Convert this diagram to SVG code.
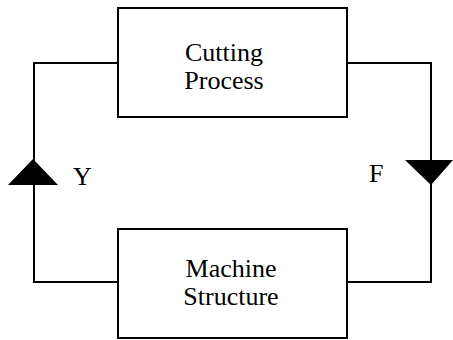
<svg xmlns="http://www.w3.org/2000/svg" width="453" height="340" viewBox="0 0 453 340">
<style>
.box{fill:#fff;stroke:#000;stroke-width:2}
.ln{fill:none;stroke:#000;stroke-width:2}
.tri{fill:#000;stroke:none}
.t{font-family:"Liberation Serif","Times New Roman",serif;font-size:26px;fill:#000}
.c{text-anchor:middle}
</style>
<g id="connectors">
<polyline class="ln" points="118,63 34,63 34,282 118,282"/>
<polyline class="ln" points="347,63 431,63 431,282 347,282"/>
<polygon class="tri" points="8,185 58,185 33,159"/>
<polygon class="tri" points="405,160 453,160 431,185"/>
</g>
<g id="label-y"><text class="t" x="73" y="185">Y</text></g>
<g id="label-f"><text class="t" x="369" y="182">F</text></g>
<g id="cutting-process">
<rect class="box" x="118" y="8" width="229" height="109"/>
<text class="t c" x="224" y="61">Cutting</text>
<text class="t c" x="224" y="89">Process</text>
</g>
<g id="machine-structure">
<rect class="box" x="118" y="229" width="229" height="109"/>
<text class="t c" x="231" y="277">Machine</text>
<text class="t c" x="231" y="305">Structure</text>
</g>
</svg>
